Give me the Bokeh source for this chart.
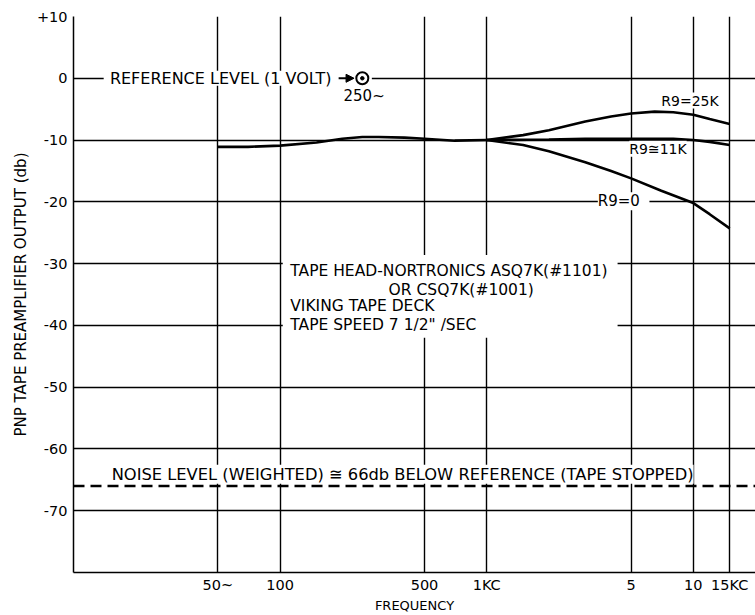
from bokeh.plotting import figure
from bokeh.models import FixedTicker, Label, BoxAnnotation, Span, Arrow, NormalHead, Range1d
from bokeh.embed import file_html
from bokeh.resources import INLINE

# ---- data ----
low_freq = [50, 70, 100, 150, 200, 250, 300, 400, 500, 700, 1000]
low_db = [-11.1, -11.1, -10.9, -10.4, -9.8, -9.5, -9.5, -9.6, -9.8, -10.1, -10.0]

freq_25k = [1000, 1500, 2000, 3000, 4000, 5000, 6500, 8000, 10000, 12000, 15000]
db_25k = [-10.0, -9.2, -8.4, -7.0, -6.2, -5.7, -5.4, -5.5, -5.9, -6.6, -7.4]

freq_11k = [1000, 2000, 3000, 5000, 8000, 10000, 12000, 15000]
db_11k = [-10.0, -9.9, -9.8, -9.8, -9.8, -10.0, -10.3, -10.8]

freq_0 = [1000, 1500, 2000, 3000, 4000, 5000, 7000, 10000, 12000, 15000]
db_0 = [-10.0, -10.8, -11.8, -13.6, -15.0, -16.2, -18.2, -20.2, -22.0, -24.3]

x_tick_values = [50, 100, 500, 1000, 5000, 10000, 15000]
x_tick_labels = ["50~", "100", "500", "1KC", "5", "10", "15KC"]
y_tick_values = [-80, -70, -60, -50, -40, -30, -20, -10, 0, 10]
y_tick_labels = ["", "-70", "-60", "-50", "-40", "-30", "-20", "-10", "0", "+10"]

ref_freq = 250
ref_level = 0
noise_level = -66

FONT = "DejaVu Sans"

p = figure(frame_width=682, frame_height=556, x_axis_type="log",
           x_range=Range1d(10, 20000), y_range=Range1d(-80, 10),
           output_backend="svg", toolbar_location=None,
           min_border_left=73, min_border_right=0, min_border_top=16, min_border_bottom=40)

p.outline_line_color = None
p.background_fill_color = "white"

# axes
p.xaxis.ticker = FixedTicker(ticks=x_tick_values, minor_ticks=[])
p.xaxis.major_label_overrides = dict(zip(x_tick_values, x_tick_labels))
p.yaxis.ticker = FixedTicker(ticks=y_tick_values, minor_ticks=[])
p.yaxis.major_label_overrides = dict(zip(y_tick_values, y_tick_labels))
for ax in (p.xaxis, p.yaxis):
    ax.major_tick_line_color = None
    ax.minor_tick_line_color = None
    ax.major_tick_out = 0
    ax.major_tick_in = 0
    ax.axis_line_color = "black"
    ax.axis_line_width = 1.5
    ax.major_label_text_font = FONT
    ax.major_label_text_font_size = "14.5px"
    ax.major_label_text_color = "black"
    ax.axis_label_text_font = FONT
    ax.axis_label_text_font_style = "normal"
    ax.axis_label_text_color = "black"
p.xaxis.major_label_standoff = 4
p.yaxis.major_label_standoff = 6
p.xaxis.axis_label = "FREQUENCY"
p.xaxis.axis_label_text_font_size = "13px"
p.xaxis.axis_label_standoff = 2
p.yaxis.axis_label = "PNP TAPE PREAMPLIFIER OUTPUT (db)"
p.yaxis.axis_label_text_font_size = "15px"
p.yaxis.axis_label_standoff = 4

p.xgrid.ticker = FixedTicker(ticks=x_tick_values, minor_ticks=[])
p.ygrid.ticker = FixedTicker(ticks=y_tick_values, minor_ticks=[])
for g in (p.xgrid, p.ygrid):
    g.grid_line_color = "black"
    g.grid_line_width = 1.4
    g.grid_line_alpha = 1.0

# white backgrounds that interrupt the grid (drawn over grid, under glyphs)
p.add_layout(BoxAnnotation(left=14, right=278, bottom=-1.2, top=1.2,
                           fill_color="white", fill_alpha=1, line_color=None, level="underlay"))
p.add_layout(BoxAnnotation(left=103, right=4300, bottom=-42.0, top=-28.6,
                           fill_color="white", fill_alpha=1, line_color=None, level="underlay"))

# noise level dashed line
p.add_layout(Span(location=noise_level, dimension="width", line_color="black",
                  line_width=2.6, line_dash="11 6"))

# response curves
for fx, fy in ((low_freq, low_db), (freq_25k, db_25k), (freq_11k, db_11k), (freq_0, db_0)):
    p.line(fx, fy, line_color="black", line_width=2.6)

# reference marker
p.add_layout(Arrow(end=NormalHead(size=8, fill_color="black", line_color="black", line_width=1),
                   x_start=192, y_start=ref_level, x_end=228, y_end=ref_level,
                   line_color="black", line_width=2))
p.scatter([ref_freq], [ref_level], size=12, fill_color="white", line_color="black", line_width=2)
p.scatter([ref_freq], [ref_level], size=3.5, fill_color="black", line_color="black")


def lab(x, y, text, align="left", bg=None, size="16px"):
    kw = dict(x=x, y=y, text=text, text_font=FONT, text_font_size=size,
              text_color="black", text_align=align, text_baseline="middle")
    if bg:
        kw.update(background_fill_color=bg, background_fill_alpha=1.0)
    l = Label(**kw)
    p.add_layout(l)
    return l


lab(15.0, ref_level, "REFERENCE LEVEL (1 VOLT)")
lab(ref_freq * 1.02, -2.9, "250~", align="center", size="15px")

lab(15.3, -64.1, "NOISE LEVEL (WEIGHTED) \u2245 66db BELOW REFERENCE (TAPE STOPPED)", bg="white", size="16.3px")

lab(112, -31.2, "TAPE HEAD-NORTRONICS ASQ7K(#1101)", size="15.5px")
lab(335, -34.2, "OR CSQ7K(#1001)", size="15.5px")
lab(112, -36.9, "VIKING TAPE DECK", size="15.5px")
lab(112, -40.0, "TAPE SPEED 7 1/2\" /SEC", size="15.5px")

lab(7000, -3.6, "R9=25K", bg="white", size="14px")
lab(4900, -11.4, "R9\u224511K", bg="white", size="14px")
lab(3450, -19.9, " R9=0 ", bg="white", size="15px")

open("out.html", "w").write(file_html(p, INLINE))
